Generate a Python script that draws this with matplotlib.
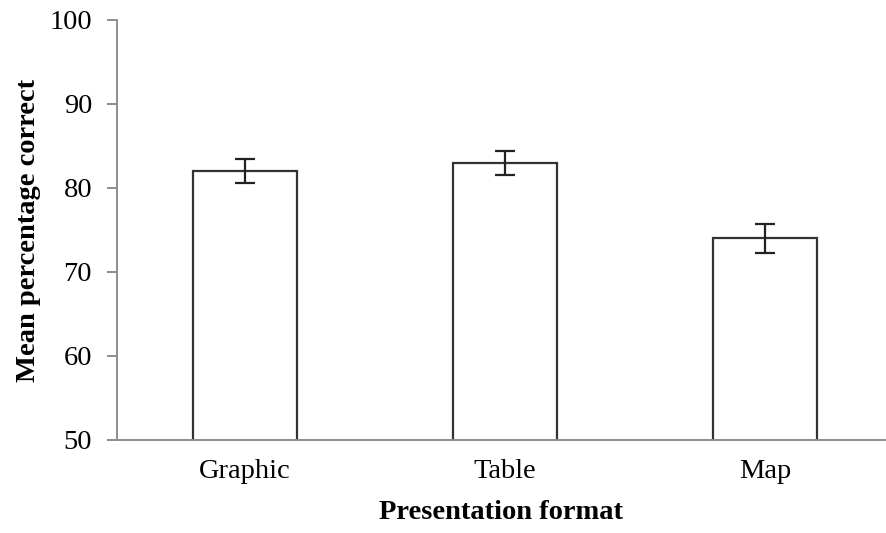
import matplotlib
matplotlib.use('Agg')
import matplotlib.pyplot as plt

categories = ['Graphic', 'Table', 'Map']
means = [82, 83, 74]
errors = [1.4, 1.4, 1.7]

plt.rcParams['font.family'] = ['Liberation Serif', 'DejaVu Serif']

fig = plt.figure(figsize=(8.87, 5.33), dpi=100)
ax = fig.add_axes([0.132, 0.1745, 0.866, 0.788])

x = range(len(categories))
ax.bar(x, means, width=0.40, color='white', edgecolor='#333333', linewidth=1.6,
       yerr=errors, capsize=7, error_kw=dict(ecolor='#222222', elinewidth=1.6, capthick=1.6))

ax.set_xlim(-0.492, 2.462)
ax.set_ylim(50, 100)
ax.set_yticks([50, 60, 70, 80, 90, 100])
ax.set_xticks(list(x))
ax.set_xticklabels(categories)

for side in ['top', 'right']:
    ax.spines[side].set_visible(False)
for side in ['left', 'bottom']:
    ax.spines[side].set_color('#8c8c8c')
    ax.spines[side].set_linewidth(1.4)

ax.tick_params(axis='y', length=7, color='#8c8c8c', width=1.4, labelsize=20.5, pad=11)
ax.tick_params(axis='x', length=0, labelsize=20.5, pad=14)

ax.set_ylabel('Mean percentage correct', fontsize=20.5, fontweight='bold', labelpad=6)
ax.set_xlabel('Presentation format', fontsize=20.5, fontweight='bold', labelpad=11)

fig.savefig('out.png', dpi=100)
